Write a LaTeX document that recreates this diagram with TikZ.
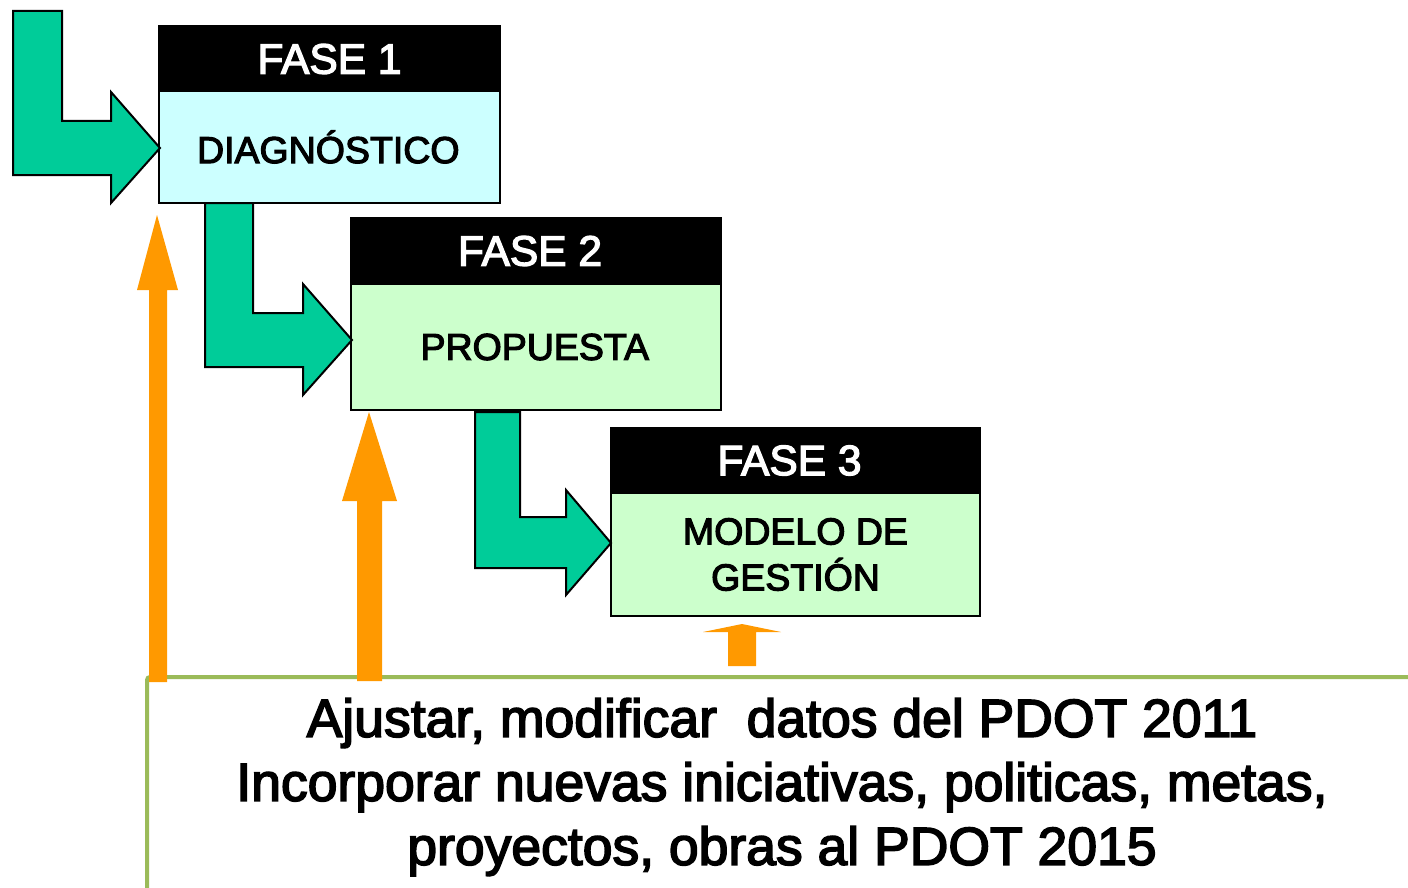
\documentclass[tikz,border=0pt]{standalone}
\usepackage{fontspec}
\setmainfont{Liberation Sans}[FakeBold=3]
\begin{document}
\begin{tikzpicture}[x=1pt,y=-1pt]
    \definecolor{fase_head}{RGB}{0,0,0}
    \definecolor{fase_bodyA}{RGB}{204,255,255}
    \definecolor{fase_bodyB}{RGB}{204,255,204}
    \definecolor{fase_arrow}{RGB}{0,204,153}
    \definecolor{fase_up}{RGB}{255,153,0}
    \definecolor{fase_frame}{RGB}{155,187,89}
    \tikzset{
      headbox/.style={shape=rectangle,draw,line width=2pt,fill=fase_head,text=white,font=\fontsize{42.5}{50}\selectfont},
      bodybox/.style={shape=rectangle,draw,line width=2pt,align=center,font=\fontsize{37.5}{46}\selectfont},
      turnarrow/.style={draw,line width=2pt,fill=fase_arrow,line join=miter},
      uparrow/.style={fill=fase_up}
    }
    \useasboundingbox (0,0) rectangle (1408,888);
    % green frame with the note
    \draw[line width=4pt,fase_frame,rounded corners=3pt] (147,900) -- (147,677) -- (1420,677);
    \node[align=center,font=\fontsize{53.5}{64}\selectfont] (note) at (782,787) {Ajustar, modificar\ \ datos del PDOT 2011\\ Incorporar nuevas iniciativas, politicas, metas,\\ proyectos, obras al PDOT 2015};
    % phases
    \node[headbox,minimum width=341pt,minimum height=65pt]  (head1) at (329.5,59)  { FASE 1 };
    \node[bodybox,fill=fase_bodyA,minimum width=341pt,minimum height=111pt] (body1) at (329.5,147) { \hspace*{8pt}DIAGN\'OSTICO };
    \node[headbox,minimum width=370pt,minimum height=66pt]  (head2) at (536,251)   { \hspace*{-12pt}FASE 2 };
    \node[bodybox,fill=fase_bodyB,minimum width=370pt,minimum height=126pt] (body2) at (536,347) { \hspace*{8pt}PROPUESTA };
    \node[headbox,minimum width=369pt,minimum height=65pt]  (head3) at (795.5,460.5) { \hspace*{-12pt}FASE 3 };
    \node[bodybox,fill=fase_bodyB,minimum width=369pt,minimum height=123pt] (body3) at (795.5,554.5) { MODELO DE\\GESTI\'ON };
    % bent arrows
    \draw[turnarrow] (13,11) -- (62,11) -- (62,121) -- (111,121) -- (111,92) -- (160,148) -- (111,203) -- (111,175) -- (13,175) -- cycle;
    \draw[turnarrow] (205,203) -- (253,203) -- (253,313) -- (303,313) -- (303,284) -- (352,340) -- (303,395) -- (303,367) -- (205,367) -- cycle;
    \draw[turnarrow] (475,412) -- (520,412) -- (520,517) -- (566,517) -- (566,490) -- (611,543) -- (566,595) -- (566,568) -- (475,568) -- cycle;
    % upward arrows
    \fill[uparrow] (149,682) -- (149,290) -- (137,290) -- (157,215) -- (178,290) -- (167,290) -- (167,682) -- cycle;
    \fill[uparrow] (357,681) -- (357,501) -- (342,501) -- (369,412) -- (397,501) -- (382,501) -- (382,681) -- cycle;
    \fill[uparrow] (728,666) -- (728,632) -- (703,632) -- (742,624) -- (781,632) -- (756,632) -- (756,666) -- cycle;
\end{tikzpicture}
\end{document}
